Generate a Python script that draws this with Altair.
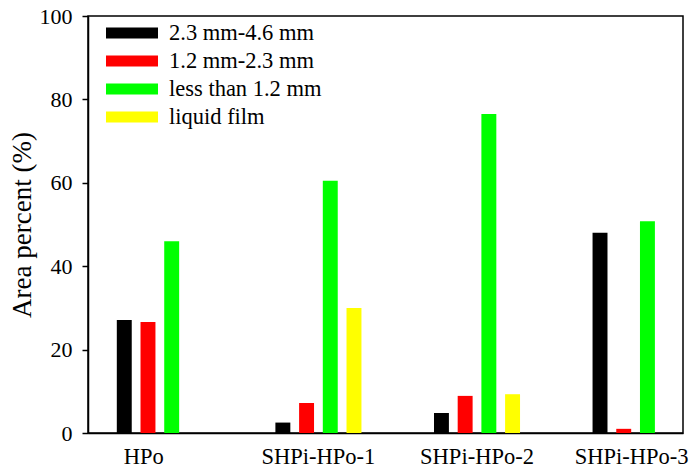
import altair as alt
import pandas as pd

# Samples on the x axis and droplet-size classes (series)
samples = ["HPo", "SHPi-HPo-1", "SHPi-HPo-2", "SHPi-HPo-3"]
sizes = ["2.3 mm-4.6 mm", "1.2 mm-2.3 mm", "less than 1.2 mm", "liquid film"]
colors = ["#000000", "#ff0000", "#00ff00", "#ffff00"]

# Area percent (%) per sample for each size class (None = not present)
coarse = [27.1, 2.5, 4.8, 48.0]
medium = [26.6, 7.2, 8.9, 1.0]
fine = [46.0, 60.5, 76.5, 50.8]
film = [None, 30.0, 9.3, None]

rows = []
for size, series in zip(sizes, [coarse, medium, fine, film]):
    for sample, v in zip(samples, series):
        if v is not None:
            rows.append({"sample": sample, "size": size, "percent": v})
df = pd.DataFrame(rows)

FONT = "Liberation Serif"

chart = alt.Chart(df).mark_bar().encode(
    x=alt.X(
        "sample:N",
        sort=samples,
        scale=alt.Scale(domain=samples, paddingInner=0.402, paddingOuter=0.077, align=1),
        axis=alt.Axis(
            title=None,
            ticks=False,
            labelAngle=0,
            labelPadding=12,
            labelFont=FONT,
            labelFontSize=22.5,
            labelColor="#000000",
            domainColor="#000000",
            domainWidth=1.5,
            labelOffset={"condition": [
                {"test": "datum.value == 'HPo'", "value": -16},
                {"test": "datum.value == 'SHPi-HPo-3'", "value": -4},
            ], "value": 0},
        ),
    ),
    xOffset=alt.XOffset(
        "size:N",
        sort=sizes,
        scale=alt.Scale(domain=sizes, paddingInner=0.37, paddingOuter=0.185),
    ),
    y=alt.Y(
        "percent:Q",
        scale=alt.Scale(domain=[0, 100], nice=False),
        axis=alt.Axis(
            title="Area percent (%)",
            values=[0, 20, 40, 60, 80, 100],
            grid=False,
            tickSize=6,
            tickWidth=1.5,
            tickColor="#000000",
            domainColor="#000000",
            domainWidth=1.5,
            labelPadding=10,
            labelFont=FONT,
            labelFontSize=22,
            labelColor="#000000",
            titleFont=FONT,
            titleFontSize=27,
            titleFontWeight="normal",
            titleColor="#000000",
            titlePadding=3,
        ),
    ),
    color=alt.Color(
        "size:N",
        sort=sizes,
        scale=alt.Scale(domain=sizes, range=colors),
        legend=alt.Legend(
            title=None,
            orient="none",
            legendX=31,
            legendY=4,
            padding=0,
            # wide flat swatch, 52 x 11 px
            symbolType="M-2,-0.42H2V0.42H-2Z",
            symbolSize=676,
            symbolStrokeWidth=0,
            symbolOpacity=1,
            labelFont=FONT,
            labelFontSize=22.5,
            labelColor="#000000",
            labelLimit=400,
            labelOffset=24,
            rowPadding=3,
        ),
    ),
).properties(
    width=595,
    height=417,
    padding={"left": 88, "top": 16, "right": 7, "bottom": 35},
    autosize="none",
    background="white",
).configure_view(
    stroke="#000000",
    strokeWidth=1.5,
)

chart.save("out.html", embed_options={"renderer": "svg", "actions": False})
